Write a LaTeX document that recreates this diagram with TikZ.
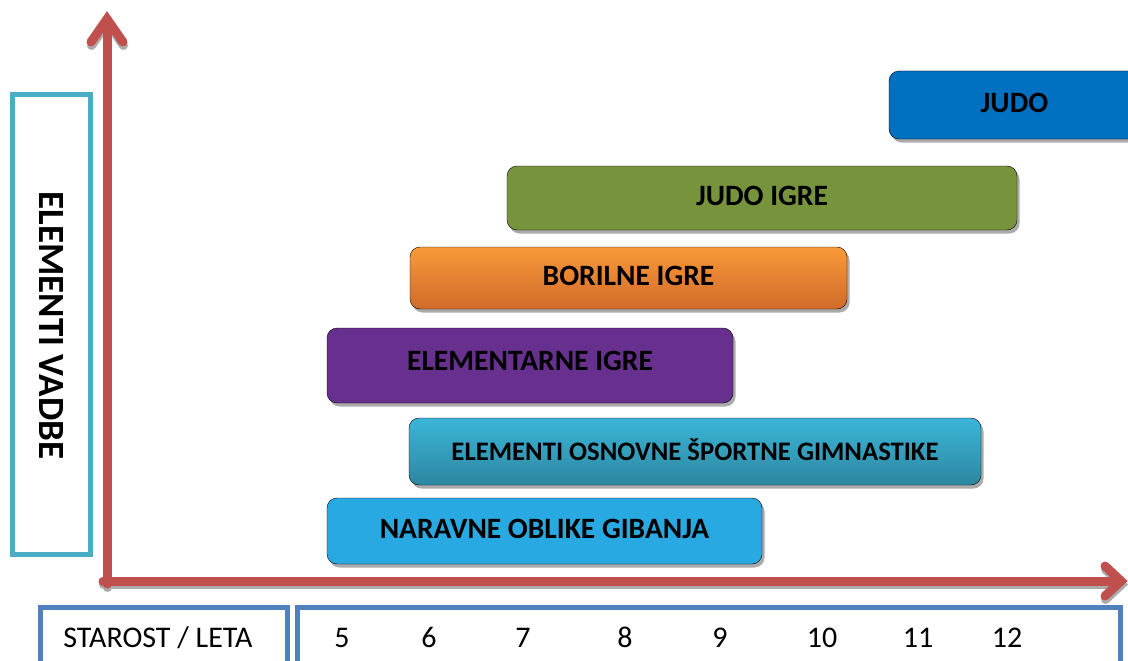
\documentclass[tikz,border=0pt]{standalone}
\usepackage{fontspec}
\setmainfont{Carlito}
\usepackage{xcolor}
\usepackage{tikz}
\usetikzlibrary{shadows}

\definecolor{axisred}{HTML}{C0504D}
\definecolor{framecyan}{HTML}{4BACC6}
\definecolor{frameblue}{HTML}{4F81BD}
\definecolor{judoblue}{HTML}{0070C0}
\definecolor{judoolive}{HTML}{77933C}
\definecolor{borilnetop}{HTML}{F89A3A}
\definecolor{borilnebot}{HTML}{D16A2A}
\definecolor{elempurple}{HTML}{67308F}
\definecolor{gimtop}{HTML}{3BB5D8}
\definecolor{gimbot}{HTML}{2D87A0}
\definecolor{naravneblue}{HTML}{29A9E1}

\tikzset{
    bar/.style={
        rounded corners=10pt,
        general shadow={fill=black!33, shadow xshift=2.5pt, shadow yshift=-3.5pt}
    },
    bartext/.style={font=\fontsize{29.5}{32}\selectfont\bfseries, text=black, yshift=2pt},
    axisline/.style={line width=9pt, color=axisred, line cap=round, line join=miter},
    axisshadow/.style={axisline, color=black!33, shift={(0.5,3.5)}},
    frame/.style={line width=5pt},
    agetext/.style={font=\fontsize{30}{32}\selectfont, text=black, anchor=base}
}

\begin{document}
\begin{tikzpicture}[x=1pt,y=-1pt]
                \useasboundingbox (0,0) rectangle (1128,661);

                % activity bars
                \draw[bar, fill=naravneblue] (327,498) rectangle (762,564)
                    node[pos=.5, bartext] (naravne) {NARAVNE OBLIKE GIBANJA};

                \draw[bar, top color=gimtop, bottom color=gimbot] (409,418) rectangle (981,485)
                    node[pos=.5, bartext, font=\fontsize{26.7}{28}\selectfont\bfseries] (gimnastika) {ELEMENTI OSNOVNE ŠPORTNE GIMNASTIKE};

                \draw[bar, fill=elempurple] (327,328) rectangle (733,403)
                    node[pos=.5, bartext, yshift=3pt] (elementarne) {ELEMENTARNE IGRE};

                \draw[bar, top color=borilnetop, middle color=borilnetop!85!borilnebot, bottom color=borilnebot] (410,247) rectangle (847,309)
                    node[pos=.5, bartext] (borilne) {BORILNE IGRE};

                \draw[bar, fill=judoolive] (507,166) rectangle (1017,230)
                    node[pos=.5, bartext] (judoigre) {JUDO IGRE};

                \draw[bar, fill=judoblue] (889,71) rectangle (1140,139)
                    node[pos=.5, bartext] (judo) {JUDO};

                % y label
                \draw[frame, framecyan] (12.5,95) rectangle (90.5,554)
                    node[pos=.5, text=black, font=\fontsize{37}{39}\selectfont\bfseries, rotate=-90, xshift=1pt] (vadbe) {ELEMENTI VADBE};

                % age row
                \draw[frame, frameblue] (40.5,607.5) rectangle (287.5,675)
                    node[pos=.5] (starost) {};
                \node[agetext] (leta) at (158,647) {STAROST / LETA};
                \draw[frame, frameblue] (297.5,607.5) rectangle (1120.5,675)
                    node[pos=.5] (ages) {};
                \foreach \age/\xpos in {5/342, 6/429, 7/523, 8/625, 9/720, 10/822, 11/918, 12/1007}
                    \node[agetext] (age\age) at (\xpos,647) {\age};

                % axes
                \draw[axisshadow] (107,584) -- (107,20);
                \draw[axisshadow] (91,42) -- (107,19) -- (123,42);
                \draw[axisshadow] (103,581) -- (1118,581);
                \draw[axisshadow] (1105,566) -- (1121,581) -- (1105,596);
                \draw[axisline] (107,584) -- (107,20);
                \draw[axisline] (91,42) -- (107,19) -- (123,42);
                \draw[axisline] (103,581) -- (1118,581);
                \draw[axisline] (1105,566) -- (1121,581) -- (1105,596);

\end{tikzpicture}
\end{document}
